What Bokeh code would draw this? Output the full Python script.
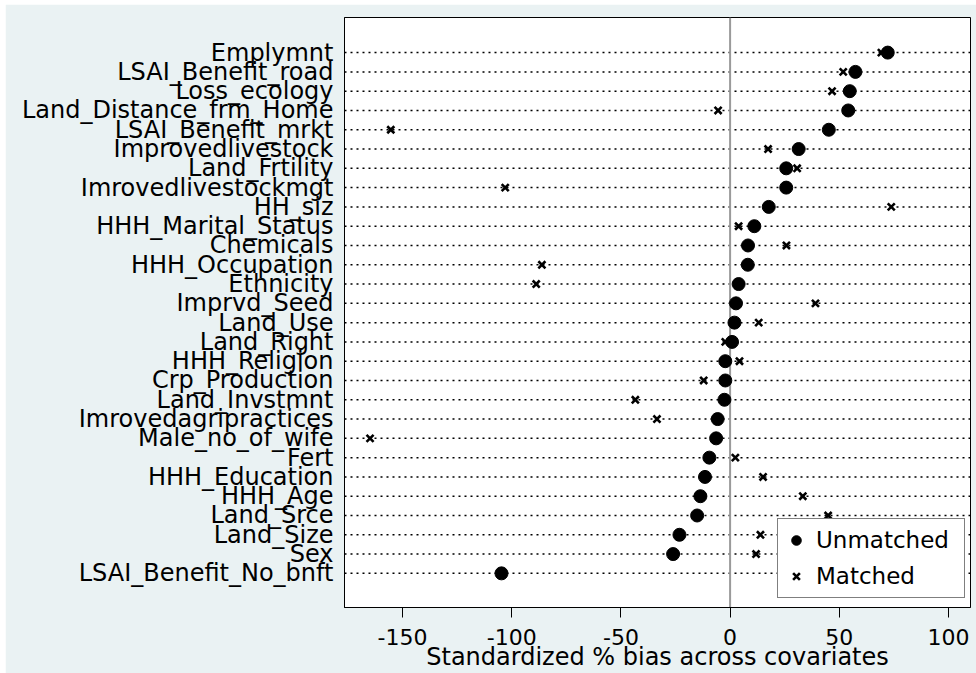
from bokeh.plotting import figure
from bokeh.models import Span, Legend, LegendItem, FixedTicker, ColumnDataSource
from bokeh.embed import file_html
from bokeh.resources import INLINE

# Covariates, listed top to bottom
covariates = [
    "Emplymnt", "LSAI_Benefit_road", "Loss_ecology", "Land_Distance_frm_Home",
    "LSAI_Benefit_mrkt", "Improvedlivestock", "Land_Frtility", "Imrovedlivestockmgt",
    "HH_siz", "HHH_Marital_Status", "Chemicals", "HHH_Occupation", "Ethnicity",
    "Imprvd_Seed", "Land_Use", "Land_Right", "HHH_Religion", "Crp_Production",
    "Land_Invstmnt", "Imrovedagripractices", "Male_no_of_wife", "Fert",
    "HHH_Education", "HHH_Age", "Land_Srce", "Land_Size", "Sex",
    "LSAI_Benefit_No_bnft",
]

# Standardized % bias before matching
unmatched = [
    72.2, 57.4, 54.8, 54.1, 45.2, 31.4, 25.7, 25.7, 17.7, 11.1, 8.2, 8.1, 3.9,
    2.7, 2.0, 0.9, -2.2, -2.2, -2.6, -5.7, -6.4, -9.5, -11.5, -13.6, -15.1,
    -23.2, -26.1, -104.7,
]

# Standardized % bias after matching
matched = [
    69.3, 51.8, 46.7, -5.5, -155.4, 17.4, 30.7, -103.0, 73.8, 3.9, 25.8, -86.2,
    -88.8, 39.1, 13.1, -2.2, 4.3, -12.1, -43.4, -33.5, -164.9, 2.4, 15.1, 33.3,
    44.9, 13.9, 11.9, 58.0,
]

x_ticks = [-150, -100, -50, 0, 50, 100]
x_tick_labels = ["-150", "-100", "-50", "0", "50", "100"]
x_title = "Standardized % bias across covariates"

FONT = "DejaVu Sans"

n = len(covariates)
ypos = list(range(n, 0, -1))

src = ColumnDataSource(dict(cov=covariates, y=ypos, unm=unmatched, mat=matched))

p = figure(
    width=971, height=669,
    x_range=(-176.6, 110.1), y_range=(-0.77, 29.82),
    output_backend="svg", toolbar_location=None,
    min_border_left=339, min_border_right=6,
    min_border_top=13, min_border_bottom=66,
)
p.margin = (4, 0, 0, 5)
p.background_fill_color = "white"
p.border_fill_color = "#EAF2F3"
p.outline_line_color = "black"
p.outline_line_width = 1
p.xgrid.visible = False
p.ygrid.visible = False

# dotted guide line for every covariate
for y in ypos:
    p.add_layout(Span(location=y, dimension="width", line_color="black",
                      line_width=1.5, line_dash="2 4", level="underlay"))

# reference line at zero bias
p.add_layout(Span(location=0, dimension="height", line_color="#9a9a9a",
                  line_width=2, level="underlay"))

r_m = p.scatter("mat", "y", source=src, marker="x", size=10,
                line_color="black", line_width=2.6)
r_u = p.scatter("unm", "y", source=src, marker="circle", size=13,
                fill_color="black", line_color="black")

legend = Legend(
    items=[LegendItem(label="Unmatched", renderers=[r_u]),
           LegendItem(label="Matched", renderers=[r_m])],
    location=(433, 9),
    glyph_width=24, glyph_height=30, label_height=30, label_width=142,
    label_standoff=8, padding=6, spacing=6,
    label_text_font=FONT, label_text_font_size="23px",
    label_text_color="black",
    border_line_color="black", border_line_width=1,
    background_fill_color="white", background_fill_alpha=1.0,
)
p.add_layout(legend)

# y axis: covariate names, no ticks
p.yaxis.ticker = FixedTicker(ticks=ypos, minor_ticks=[])
p.yaxis.major_label_overrides = {y: c for y, c in zip(ypos, covariates)}
p.yaxis.major_tick_out = 0
p.yaxis.major_tick_in = 0
p.yaxis.minor_tick_line_color = None
p.yaxis.major_label_standoff = 11
p.yaxis.major_label_text_font = FONT
p.yaxis.major_label_text_font_size = "24px"
p.yaxis.major_label_text_color = "black"
p.yaxis.axis_line_color = "black"

# x axis
p.xaxis.ticker = FixedTicker(ticks=x_ticks, minor_ticks=[])
p.xaxis.major_label_overrides = {t: s for t, s in zip(x_ticks, x_tick_labels)}
p.xaxis.major_tick_out = 10
p.xaxis.major_tick_in = 0
p.xaxis.major_tick_line_color = "black"
p.xaxis.minor_tick_line_color = None
p.xaxis.major_label_standoff = 11
p.xaxis.major_label_text_font = FONT
p.xaxis.major_label_text_font_size = "22px"
p.xaxis.major_label_text_color = "black"
p.xaxis.axis_line_color = "black"
p.xaxis.axis_label = x_title
p.xaxis.axis_label_text_font = FONT
p.xaxis.axis_label_text_font_size = "24px"
p.xaxis.axis_label_text_font_style = "normal"
p.xaxis.axis_label_text_color = "black"
p.xaxis.axis_label_standoff = -5

open("out.html", "w").write(file_html(p, INLINE))
